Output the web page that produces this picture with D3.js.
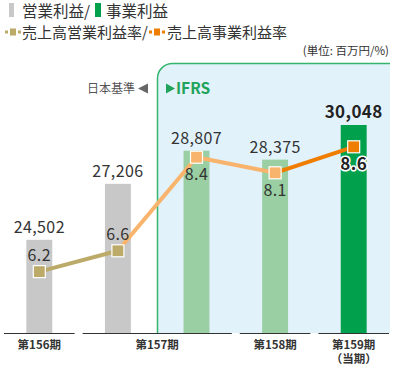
<html>
<head>
<meta charset="utf-8">
<script src="https://d3js.org/d3.v7.min.js"></script>
<style>
  body { margin: 0; background: #fff; }
  text { font-family: "Noto Sans CJK JP", "Noto Sans", sans-serif; fill: #333; }
</style>
</head>
<body>
<div id="chart"></div>
<script>
// data
const keys = ["156", "157J", "157I", "158", "159"];
const profit = [24502, 27206, 28807, 28375, 30048];
const margin = [6.2, 6.6, 8.4, 8.1, 8.6];
const standard = ["J", "J", "I", "I", "I"];
const groupLabels = ["第156期", "第157期", "第158期", "第159期"];
const groupSub = ["", "", "", "（当期）"];
const groupFirst = [0, 1, 3, 4];
const groupLast = [0, 2, 3, 4];

const width = 400, height = 370;
const base = 333;
const current = keys.length - 1;

const barColor = ["#c8c8c8", "#c8c8c8", "#99cfa2", "#99cfa2", "#00a04c"];
const dotColor = ["#bcaa69", "#bcaa69", "#f8b46c", "#f8b46c", "#ee7d00"];
const marginPos = ["above", "above", "below", "below", "below"];

const svg = d3.select("#chart").append("svg")
  .attr("width", width).attr("height", height);

const x = d3.scaleBand().domain(keys).range([0, 393])
  .paddingInner(0.67).paddingOuter(0.335);
const y = d3.scaleLinear().domain([20000, 30000]).range([base, 126]);
const y2 = d3.scaleLinear().domain([6, 9]).range([282, 126]);
const cx = k => x(k) + x.bandwidth() / 2;
const gap = (x.step() - x.bandwidth()) / 2;

// IFRS panel
const firstI = keys[standard.indexOf("I")];
const px = Math.round(x(firstI) - gap) + 0.5, py = 63.5, r = 15;
svg.append("path")
  .attr("d", `M${px},${base} V${py + r} A${r},${r} 0 0 1 ${px + r},${py} H390 V${base} Z`)
  .attr("fill", "#e2f2fb");
svg.append("path")
  .attr("d", `M${px},${base} V${py + r} A${r},${r} 0 0 1 ${px + r},${py} H390`)
  .attr("fill", "none").attr("stroke", "#36b56e").attr("stroke-width", 1.5);

svg.append("text").attr("x", 135).attr("y", 93).attr("text-anchor", "end")
  .style("font-size", "12px").style("fill", "#555").text("日本基準");
svg.append("path").attr("d", "M138,88.5 L148,83.5 L148,93.5 Z").attr("fill", "#666");
svg.append("path").attr("d", "M166,83.5 L175,88.5 L166,93.5 Z").attr("fill", "#1fa35a");
svg.append("text").attr("x", 176).attr("y", 94)
  .style("font-size", "15.5px").style("font-weight", "bold").style("fill", "#1fa35a").text("IFRS");

// bars
svg.selectAll("rect.bar").data(keys).enter().append("rect")
  .attr("class", "bar")
  .attr("x", d => x(d))
  .attr("y", (d, i) => y(profit[i]))
  .attr("width", x.bandwidth())
  .attr("height", (d, i) => base - y(profit[i]))
  .attr("fill", (d, i) => barColor[i]);

svg.selectAll("text.val").data(keys).enter().append("text")
  .attr("class", "val")
  .attr("x", d => cx(d))
  .attr("y", (d, i) => y(profit[i]) - 7)
  .attr("text-anchor", "middle")
  .style("font-size", (d, i) => i == current ? "17px" : "16px")
  .style("letter-spacing", "0.4px")
  .style("font-weight", (d, i) => i == current ? "bold" : "normal")
  .style("fill", (d, i) => i == current ? "#222" : "#333")
  .text((d, i) => d3.format(",")(profit[i]));

// x axis segments
groupLabels.forEach((g, j) => {
  const x0 = x(keys[groupFirst[j]]) - gap + 4;
  const x1 = x(keys[groupLast[j]]) + x.bandwidth() + gap - 4;
  svg.append("line").attr("x1", x0).attr("x2", x1)
    .attr("y1", base + 0.5).attr("y2", base + 0.5)
    .attr("stroke", "#333").attr("stroke-width", 1);
  svg.append("text").attr("x", (x0 + x1) / 2).attr("y", 348.5)
    .attr("text-anchor", "middle")
    .style("font-size", "11.5px").style("font-weight", "bold").style("fill", "#333")
    .text(g);
  if (groupSub[j]) {
    svg.append("text").attr("x", (x0 + x1) / 2).attr("y", 363)
      .attr("text-anchor", "middle")
      .style("font-size", "11.5px").style("font-weight", "bold").style("fill", "#333")
      .text(groupSub[j]);
  }
});

// margin line
for (let i = 1; i < keys.length; i++) {
  svg.append("line")
    .attr("x1", cx(keys[i - 1])).attr("y1", y2(margin[i - 1]))
    .attr("x2", cx(keys[i])).attr("y2", y2(margin[i]))
    .attr("stroke", dotColor[i]).attr("stroke-width", 4);
}
svg.selectAll("rect.dot").data(keys).enter().append("rect")
  .attr("class", "dot")
  .attr("x", d => cx(d) - 6)
  .attr("y", (d, i) => y2(margin[i]) - 6)
  .attr("width", 12).attr("height", 12)
  .attr("fill", (d, i) => dotColor[i])
  .attr("stroke", "#fff").attr("stroke-width", 1.2);

svg.selectAll("text.pct").data(keys).enter().append("text")
  .attr("class", "pct")
  .attr("x", d => cx(d))
  .attr("y", (d, i) => y2(margin[i]) + (marginPos[i] == "above" ? -11 : 23))
  .attr("text-anchor", "middle")
  .style("font-size", (d, i) => i == current ? "17px" : "16px")
  .style("letter-spacing", "0.4px")
  .style("font-weight", (d, i) => i == current ? "bold" : "normal")
  .style("fill", (d, i) => i == current ? "#222" : "#333")
  .style("stroke", (d, i) => i == current ? "#fff" : "none")
  .style("stroke-width", 3).style("paint-order", "stroke")
  .text((d, i) => margin[i].toFixed(1));

// legend
svg.append("rect").attr("x", 9).attr("y", 3).attr("width", 5).attr("height", 14).attr("fill", "#c8c8c8");
svg.append("text").attr("x", 22).attr("y", 17).style("font-size", "15.5px").text("営業利益/");
svg.append("rect").attr("x", 95).attr("y", 3).attr("width", 6).attr("height", 14).attr("fill", "#00a04c");
svg.append("text").attr("x", 106).attr("y", 17).style("font-size", "15.5px").text("事業利益");

function lineKey(lx, c) {
  svg.append("rect").attr("x", lx).attr("y", 30.5).attr("width", 3).attr("height", 3).attr("fill", c);
  svg.append("rect").attr("x", lx + 5).attr("y", 28.5).attr("width", 6).attr("height", 7).attr("fill", c);
  svg.append("rect").attr("x", lx + 13).attr("y", 30.5).attr("width", 3).attr("height", 3).attr("fill", c);
}
lineKey(5, "#bcaa69");
svg.append("text").attr("x", 22).attr("y", 38).style("font-size", "15px").text("売上高営業利益率/");
lineKey(149, "#ee7d00");
svg.append("text").attr("x", 167).attr("y", 38).style("font-size", "15px").text("売上高事業利益率");

svg.append("text").attr("x", 389).attr("y", 55).attr("text-anchor", "end")
  .style("font-size", "11.5px").text("(単位: 百万円/%)");
</script>
</body>
</html>
